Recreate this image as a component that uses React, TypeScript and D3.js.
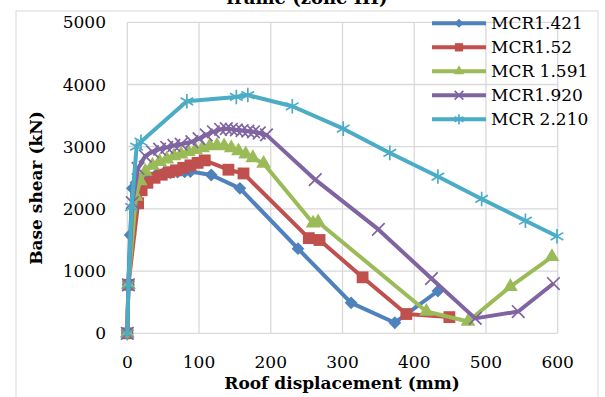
import React from "react";
import * as d3 from "d3";

// Pushover curves: roof displacement (mm) vs base shear (kN)
const seriesNames = ["MCR1.421", "MCR1.52", "MCR 1.591", "MCR1.920", "MCR 2.210"];
const seriesColors = ["#4F81BD", "#C0504D", "#9BBB59", "#8064A2", "#4BACC6"];

const mcr1421X = [0, 1.5, 4, 7, 12, 20, 30, 40, 50, 60, 70, 80, 88, 117, 157, 238, 312, 373, 433];
const mcr1421Y = [0, 780, 1580, 2330, 2420, 2480, 2520, 2550, 2570, 2580, 2590, 2595, 2600, 2545, 2330, 1360, 490, 170, 680];

const mcr152X = [0, 1.5, 15, 20, 28, 38, 48, 58, 68, 78, 88, 98, 108, 141, 162, 253, 268, 328, 389, 449];
const mcr152Y = [0, 780, 2090, 2300, 2420, 2500, 2550, 2590, 2620, 2660, 2700, 2740, 2780, 2630, 2570, 1530, 1500, 900, 310, 260];

const mcr1591X = [0, 1.5, 12, 18, 25, 35, 45, 55, 65, 75, 85, 95, 105, 115, 125, 135, 145, 155, 165, 175, 190, 259, 266, 417, 475, 534, 592];
const mcr1591Y = [0, 780, 2200, 2450, 2600, 2700, 2760, 2800, 2850, 2880, 2920, 2950, 2980, 3010, 3020, 3010, 2980, 2930, 2880, 2820, 2730, 1770, 1790, 350, 190, 750, 1230];

const mcr1920X = [0, 1.5, 7, 15, 25, 35, 45, 55, 65, 75, 90, 100, 110, 120, 130, 138, 145, 152, 160, 168, 176, 184, 194, 262, 350, 424, 485, 545, 594];
const mcr1920Y = [0, 780, 2100, 2650, 2850, 2920, 2960, 2990, 3020, 3040, 3080, 3130, 3190, 3240, 3280, 3290, 3280, 3270, 3260, 3250, 3240, 3220, 3190, 2470, 1670, 880, 240, 350, 800];

const mcr2210X = [0, 1.5, 6, 13, 19, 83, 152, 168, 230, 301, 366, 433, 494, 555, 599];
const mcr2210Y = [0, 780, 2030, 3000, 3080, 3730, 3800, 3830, 3650, 3290, 2900, 2520, 2160, 1810, 1560];

const xTicks = [0, 100, 200, 300, 400, 500, 600];
const yTicks = [0, 1000, 2000, 3000, 4000, 5000];

const seriesX = [mcr1421X, mcr152X, mcr1591X, mcr1920X, mcr2210X];
const seriesY = [mcr1421Y, mcr152Y, mcr1591Y, mcr1920Y, mcr2210Y];

const W = 605;
const H = 397;
const x = d3.scaleLinear().domain([0, 600]).range([127.3, 557.7]);
const y = d3.scaleLinear().domain([0, 5000]).range([333.3, 22.3]);

const FONT = "'DejaVu Serif', 'Liberation Serif', serif";
const GRID = "#d9d9d9";

type MarkerKind = "diamond" | "square" | "triangle" | "x" | "star";
const markerKinds: MarkerKind[] = ["diamond", "square", "triangle", "x", "star"];

function markerPath(kind: MarkerKind, scale: number): string {
  const s2 = scale * scale;
  switch (kind) {
    case "diamond":
      return d3.symbol(d3.symbolSquare, 82 * s2)() || "";
    case "square":
      return d3.symbol(d3.symbolSquare, 140 * s2)() || "";
    case "triangle":
      return d3.symbol(d3.symbolTriangle, 95 * s2)() || "";
    case "x":
      return d3.symbol(d3.symbolX, 105 * s2)() || "";
    default:
      return d3.symbol(d3.symbolAsterisk, 150 * s2)() || "";
  }
}

function Marker({ kind, cx, cy, color, scale = 1 }: { kind: MarkerKind; cx: number; cy: number; color: string; scale?: number }) {
  const d = markerPath(kind, scale);
  const stroked = kind === "x" || kind === "star";
  const rot = kind === "diamond" ? " rotate(45)" : "";
  return (
    <path
      d={d}
      transform={`translate(${cx},${cy})${rot}`}
      fill={stroked ? "none" : color}
      stroke={color}
      strokeWidth={stroked ? 1.7 : 0}
    />
  );
}

export default function App() {
  const line = d3
    .line<[number, number]>()
    .x((p) => x(p[0]))
    .y((p) => y(p[1]));

  return (
    <svg
      width={W}
      height={H}
      viewBox={`0 0 ${W} ${H}`}
      style={{ position: "absolute", left: 0, top: 0, background: "#fff" }}
    >
      <rect x={0} y={0} width={W} height={H} fill="#fff" />
      <rect x={16} y={11} width={582} height={H} fill="none" stroke={GRID} strokeWidth={1} />

      {/* title, partly above the frame */}
      <text x={307} y={4} textAnchor="middle" fontFamily={FONT} fontWeight="bold" fontSize={18}>
        frame (zone III)
      </text>

      {/* gridlines */}
      {xTicks.map((t) => (
        <line key={`gx${t}`} x1={x(t)} x2={x(t)} y1={y(5000)} y2={y(0)} stroke={GRID} strokeWidth={1.3} />
      ))}
      {yTicks.map((t) => (
        <line key={`gy${t}`} x1={x(0)} x2={x(600)} y1={y(t)} y2={y(t)} stroke={GRID} strokeWidth={1.3} />
      ))}

      {/* tick labels */}
      {yTicks.map((t) => (
        <text key={`ty${t}`} x={106} y={y(t)} dy="0.36em" textAnchor="end" fontFamily={FONT} fontSize={17}>
          {t}
        </text>
      ))}
      {xTicks.map((t) => (
        <text key={`tx${t}`} x={x(t)} y={368} textAnchor="middle" fontFamily={FONT} fontSize={17}>
          {t}
        </text>
      ))}

      {/* axis titles */}
      <text x={342} y={389} textAnchor="middle" fontFamily={FONT} fontWeight="bold" fontSize={17}>
        Roof displacement (mm)
      </text>
      <text
        transform="translate(42,188) rotate(-90)"
        textAnchor="middle"
        fontFamily={FONT}
        fontWeight="bold"
        fontSize={17}
      >
        Base shear (kN)
      </text>

      {/* series */}
      {seriesNames.map((name, i) => {
        const pts: [number, number][] = seriesX[i].map((v, k) => [v, seriesY[i][k]]);
        return (
          <g key={name}>
            <path d={line(pts) || ""} fill="none" stroke={seriesColors[i]} strokeWidth={4} strokeLinejoin="round" />
            {pts.map((p, k) => (
              <Marker key={k} kind={markerKinds[i]} cx={x(p[0])} cy={y(p[1])} color={seriesColors[i]} />
            ))}
          </g>
        );
      })}

      {/* legend */}
      {seriesNames.map((name, i) => {
        const cy = 23.3 + i * 24;
        return (
          <g key={`lg${name}`}>
            <line x1={432} x2={486} y1={cy} y2={cy} stroke={seriesColors[i]} strokeWidth={4} />
            <Marker kind={markerKinds[i]} cx={459} cy={cy} color={seriesColors[i]} scale={0.7} />
            <text x={491} y={cy} dy="0.36em" fontFamily={FONT} fontSize={17}>
              {name}
            </text>
          </g>
        );
      })}
    </svg>
  );
}
